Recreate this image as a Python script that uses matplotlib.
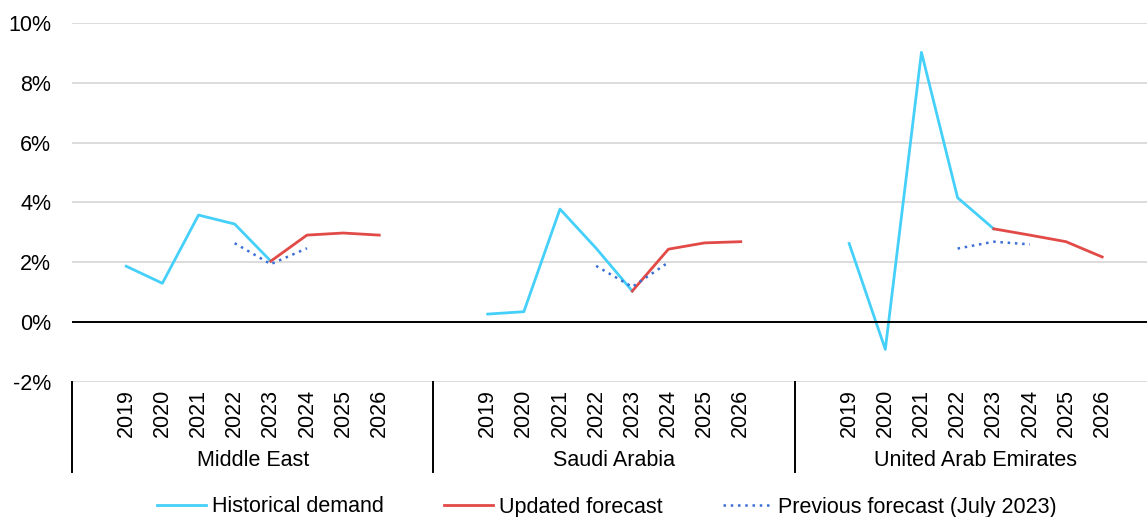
import numpy as np
import matplotlib
matplotlib.use("Agg")
import matplotlib.pyplot as plt
from matplotlib.ticker import FuncFormatter

plt.rcParams['font.family'] = ['Liberation Sans', 'DejaVu Sans']

regions = ["Middle East", "Saudi Arabia", "United Arab Emirates"]
years = ["2019", "2020", "2021", "2022", "2023", "2024", "2025", "2026"]
nan = np.nan

# growth rates in %, one row per region, columns 2019..2026
historical = [
    [1.87, 1.30, 3.58, 3.28, 2.04, nan, nan, nan],
    [0.27, 0.35, 3.78, 2.47, 1.04, nan, nan, nan],
    [2.63, -0.91, 9.02, 4.16, 3.12, nan, nan, nan],
]
updated = [
    [nan, nan, nan, nan, 2.04, 2.91, 2.98, 2.91],
    [nan, nan, nan, nan, 1.04, 2.44, 2.65, 2.69],
    [nan, nan, nan, nan, 3.12, 2.91, 2.69, 2.18],
]
previous = [
    [nan, nan, nan, 2.64, 1.94, 2.47, nan, nan],
    [nan, nan, nan, 1.88, 1.18, 2.00, nan, nan],
    [nan, nan, nan, 2.46, 2.69, 2.60, nan, nan],
]

c_hist = "#45d0fa"
c_upd = "#e24a48"
c_prev = "#3b6fd6"

W, H = 1147, 517
fs = 15.5
fig = plt.figure(figsize=(W / 100, H / 100), dpi=100)
ax = fig.add_axes([72 / W, 1 - 382 / H, (1147 - 72) / W, (382 - 23) / H])

slots = 10
for g, reg in enumerate(regions):
    x = np.arange(len(years)) + g * slots + 1
    lh, = ax.plot(x, historical[g], color=c_hist, lw=2.0)
    lu, = ax.plot(x, updated[g], color=c_upd, lw=2.0)
    lp, = ax.plot(x, previous[g], color=c_prev, lw=1.8, ls=(0, (1, 1.9)))

# the last group runs slightly past the right edge of the picture
ax.set_xlim(-0.5, 29.24)
ax.set_ylim(-2, 10)
ax.set_yticks(np.arange(-2, 11, 2))
ax.yaxis.set_major_formatter(FuncFormatter(lambda v, p: f"{v:.0f}%"))
ax.grid(axis="y", color="#d9d9d9", lw=1.3)
ax.set_axisbelow(True)
ax.axhline(0, color="black", lw=1.4)
for s in ax.spines.values():
    s.set_visible(False)
ax.tick_params(axis="y", length=0, labelsize=fs, pad=15)
ax.set_xticks([])

# multi-level category axis
trans = ax.get_xaxis_transform()
for g, reg in enumerate(regions):
    for i, yr in enumerate(years):
        ax.text(g * slots + 1 + i, -0.02, yr, transform=trans, rotation=90,
                ha="center", va="top", fontsize=fs)
    ax.text(g * slots + (slots - 1) / 2, -0.22, reg, transform=trans,
            ha="center", va="center", fontsize=fs)
    ax.plot([g * slots - 0.5] * 2, [0, -0.25], transform=trans,
            color="black", lw=1.4, clip_on=False)

fig.legend([lh, lu, lp],
           ["Historical demand", "Updated forecast", "Previous forecast (July 2023)"],
           loc="center", bbox_to_anchor=(0.529, 1 - 507 / H), ncol=3, frameon=False,
           fontsize=fs, handlelength=2.25, handletextpad=0.3, columnspacing=2.8)

fig.savefig("out.png", dpi=100)
